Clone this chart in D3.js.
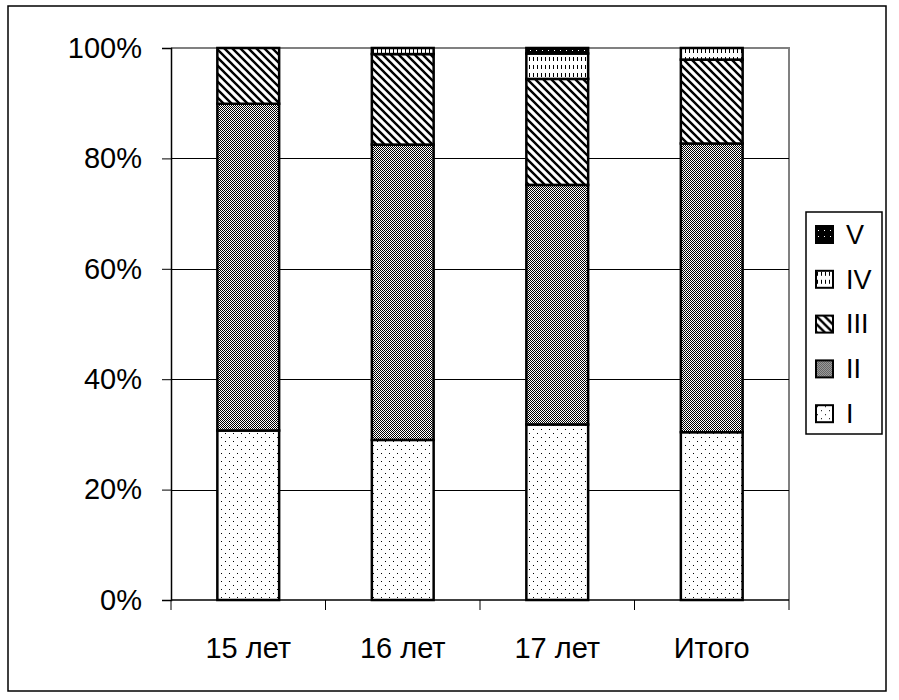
<!DOCTYPE html>
<html>
<head>
<meta charset="utf-8">
<script src="https://cdn.jsdelivr.net/npm/d3@7"></script>
<style>
  body { margin: 0; background: #fff; }
  text { font-family: "Liberation Sans", Arial, sans-serif; fill: #000; }
</style>
</head>
<body>
<svg id="chart" width="899" height="700"></svg>
<script>
// categories and share of each group (percent)
const categories = ['15 лет', '16 лет', '17 лет', 'Итого'];
const seriesNames = ['I', 'II', 'III', 'IV', 'V'];
const seriesI   = [30.7, 29.0, 31.8, 30.4];
const seriesII  = [59.2, 53.5, 43.4, 52.3];
const seriesIII = [10.1, 16.4, 19.2, 15.2];
const seriesIV  = [0.0, 1.1, 4.6, 2.1];
const seriesV   = [0.0, 0.0, 1.0, 0.0];
const yTicks = [0, 20, 40, 60, 80, 100];

const svg = d3.select('#chart');
const plotLeft = 171, plotRight = 789, plotTop = 48, plotBottom = 600;

// fill patterns, one per series
const defs = svg.append('defs');

function MakePattern(id, w, h, bg) {
  const p = defs.append('pattern')
    .attr('id', id)
    .attr('patternUnits', 'userSpaceOnUse')
    .attr('width', w)
    .attr('height', h);
  p.append('rect').attr('width', w).attr('height', h).attr('fill', bg);
  return p;
}

var pI = MakePattern('pat-I', 8, 8, '#fff');
pI.append('rect').attr('x', 1).attr('y', 1).attr('width', 1).attr('height', 1).attr('fill', '#000');
pI.append('rect').attr('x', 5).attr('y', 5).attr('width', 1).attr('height', 1).attr('fill', '#000');

var pII = MakePattern('pat-II', 2, 2, '#fff');
pII.append('rect').attr('x', 0).attr('y', 0).attr('width', 1).attr('height', 1).attr('fill', '#000');
pII.append('rect').attr('x', 1).attr('y', 1).attr('width', 1).attr('height', 1).attr('fill', '#000');

var pIII = MakePattern('pat-III', 8, 8, '#fff');
pIII.append('path')
  .attr('d', 'M-2,-2 L10,10 M-2,6 L2,10 M6,-2 L10,2')
  .attr('stroke', '#000')
  .attr('stroke-width', 2.4);

var pIV = MakePattern('pat-IV', 4, 8, '#fff');
pIV.append('rect').attr('x', 1).attr('y', 1).attr('width', 1).attr('height', 4).attr('fill', '#000');

var pV = MakePattern('pat-V', 6, 6, '#000');
pV.append('rect').attr('x', 2).attr('y', 2).attr('width', 1).attr('height', 1).attr('fill', '#fff');

const patterns = ['url(#pat-I)', 'url(#pat-II)', 'url(#pat-III)', 'url(#pat-IV)', 'url(#pat-V)'];

// outer frame
svg.append('rect')
  .attr('x', 8).attr('y', 6)
  .attr('width', 878).attr('height', 685)
  .attr('fill', 'none')
  .attr('stroke', '#000')
  .attr('stroke-width', 1.5);

const x = d3.scaleBand()
  .domain(categories)
  .range([plotLeft, plotRight])
  .paddingInner(0.6)
  .paddingOuter(0.3);

const xBand = d3.scaleBand().domain(categories).range([plotLeft, plotRight]);

const y = d3.scaleLinear().domain([0, 100]).range([plotBottom, plotTop]);

// plot area border (gray top and right)
svg.append('path')
  .attr('d', `M${plotLeft},${plotTop} H${plotRight} V${plotBottom}`)
  .attr('fill', 'none')
  .attr('stroke', '#808080')
  .attr('stroke-width', 2);

// gridlines
svg.append('g')
  .selectAll('line')
  .data(yTicks.filter((d) => d > 0 && d < 100))
  .join('line')
    .attr('x1', plotLeft).attr('x2', plotRight)
    .attr('y1', (d) => Math.round(y(d)) + 0.5)
    .attr('y2', (d) => Math.round(y(d)) + 0.5)
    .attr('stroke', '#000')
    .attr('stroke-width', 1);

// stacked data
const rows = categories.map(function(c, i) {
  return { cat: c, I: seriesI[i], II: seriesII[i], III: seriesIII[i], IV: seriesIV[i], V: seriesV[i] };
});
const stacked = d3.stack().keys(seriesNames)(rows);

const layers = svg.append('g')
  .selectAll('g')
  .data(stacked)
  .join('g')
    .attr('fill', (d, i) => patterns[i]);

layers.selectAll('rect')
  .data((d) => d.filter((s) => s[1] - s[0] > 0.05))
  .join('rect')
    .attr('x', (d) => x(d.data.cat))
    .attr('y', (d) => y(d[1]))
    .attr('width', x.bandwidth())
    .attr('height', (d) => y(d[0]) - y(d[1]))
    .attr('stroke', '#000')
    .attr('stroke-width', 2.5);

// y axis
const yAxis = svg.append('g')
  .attr('transform', `translate(${plotLeft},0)`)
  .call(d3.axisLeft(y).tickValues(yTicks).tickSize(9).tickPadding(20).tickFormat((d) => d + '%'));
yAxis.select('.domain').attr('stroke', '#000').attr('stroke-width', 1.5);
yAxis.selectAll('.tick line').attr('stroke', '#000');
yAxis.selectAll('.tick text')
  .style('font-size', '29px')
  .style('font-family', '"Liberation Sans", Arial, sans-serif')
  .attr('fill', '#000');

// x axis line and ticks on band boundaries
svg.append('line')
  .attr('x1', plotLeft).attr('x2', plotRight)
  .attr('y1', plotBottom).attr('y2', plotBottom)
  .attr('stroke', '#000')
  .attr('stroke-width', 1.5);

const bounds = categories.map((c) => xBand(c)).concat([plotRight]);
svg.append('g')
  .selectAll('line')
  .data(bounds)
  .join('line')
    .attr('x1', (d) => d).attr('x2', (d) => d)
    .attr('y1', plotBottom).attr('y2', plotBottom + 10)
    .attr('stroke', '#000');

svg.append('g')
  .selectAll('text')
  .data(categories)
  .join('text')
    .attr('x', (d) => xBand(d) + xBand.bandwidth() / 2)
    .attr('y', 658)
    .attr('text-anchor', 'middle')
    .style('font-size', '29px')
    .text((d) => d);

// legend
const legend = svg.append('g');
legend.append('rect')
  .attr('x', 806).attr('y', 212)
  .attr('width', 76).attr('height', 222)
  .attr('fill', '#fff')
  .attr('stroke', '#000')
  .attr('stroke-width', 1.5);

const legendOrder = seriesNames.map((n, i) => ({ name: n, fill: patterns[i] })).reverse();
const items = legend.selectAll('g.item')
  .data(legendOrder)
  .join('g')
    .attr('class', 'item')
    .attr('transform', (d, i) => `translate(816,${234 + i * 44.8})`);

items.append('rect')
  .attr('x', 0).attr('y', -8)
  .attr('width', 17).attr('height', 17)
  .attr('fill', (d) => d.fill)
  .attr('stroke', '#000')
  .attr('stroke-width', 2);

items.append('text')
  .attr('x', 30)
  .attr('y', 0)
  .attr('dy', '0.36em')
  .style('font-size', '27px')
  .text((d) => d.name);
</script>
</body>
</html>
